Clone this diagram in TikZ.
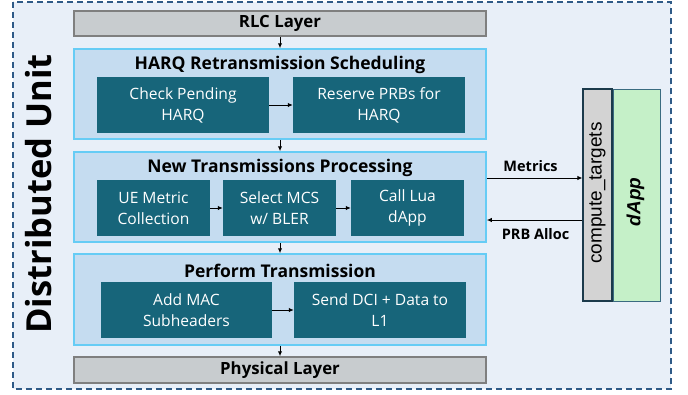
\documentclass[tikz,border=0pt]{standalone}
\usepackage{fontspec}
\setmainfont{Open Sans}
\newfontfamily\arialf{Liberation Sans}
\usetikzlibrary{arrows.meta,positioning}
\definecolor{outerfill}{HTML}{E8EFF8}
\definecolor{outerline}{HTML}{2E5A87}
\definecolor{layerfill}{HTML}{C8CCCF}
\definecolor{layerline}{HTML}{7F7F7F}
\definecolor{secfill}{HTML}{C5DCF0}
\definecolor{secline}{HTML}{66CCF5}
\definecolor{teal}{HTML}{17657A}
\definecolor{compfill}{HTML}{D3D3D3}
\definecolor{compline}{HTML}{1B3A4B}
\definecolor{dappfill}{HTML}{C5F0C8}
\definecolor{dappline}{HTML}{3A6B80}
\tikzset{
  layerbox/.style={draw=layerline, fill=layerfill, line width=1.5pt, inner sep=0pt, font=\fontsize{16.8}{20}\selectfont\bfseries},
  secbox/.style={draw=secline, fill=secfill, line width=1.5pt, inner sep=0pt},
  sectitle/.style={font=\fontsize{17.5}{20}\selectfont\bfseries, inner sep=0pt},
  stepbox/.style={fill=teal, text=white, inner sep=0pt, align=center, font=\fontsize{15.6}{21}\selectfont},
  arr/.style={-{Latex[length=5pt,width=4.5pt]}, line width=1pt},
  lbl/.style={font=\fontsize{14.5}{16}\selectfont\bfseries, inner sep=0pt}
}
\begin{document}
\begin{tikzpicture}[x=1pt,y=-1pt]
\useasboundingbox (0,0) rectangle (688,394);
% outer
\draw[outerline, fill=outerfill, line width=1.5pt, dash pattern=on 6pt off 4pt] (13,2) rectangle (671,389);
\node[rotate=90, font=\fontsize{34.5}{38}\selectfont\bfseries, inner sep=0pt] (du) at (39,194) {Distributed Unit};
% layers
\node[layerbox, minimum width=412pt, minimum height=25pt] (rlc) at (280,23.5) {RLC Layer};
\node[layerbox, minimum width=412pt, minimum height=26pt] (phy) at (280,370) {Physical Layer};
% sections
\node[secbox, minimum width=412pt, minimum height=90pt] (harq) at (280,94) {};
\node[sectitle] (harqt) at (280,65) {HARQ Retransmission Scheduling};
\node[stepbox, minimum width=172pt, minimum height=56pt] (chk) at (183,105) {Check Pending\\HARQ};
\node[stepbox, minimum width=172pt, minimum height=56pt] (res) at (379,105) {Reserve PRBs for\\HARQ};

\node[secbox, minimum width=412pt, minimum height=90pt] (newt) at (280,197) {};
\node[sectitle] (newtt) at (280,168) {New Transmissions Processing};
\node[stepbox, minimum width=113pt, minimum height=56pt] (ue) at (153.5,208) {UE Metric\\Collection};
\node[stepbox, minimum width=113pt, minimum height=56pt] (mcs) at (279.5,208) {Select MCS\\w/ BLER};
\node[stepbox, minimum width=113pt, minimum height=56pt] (lua) at (407.5,208) {Call Lua\\dApp};

\node[secbox, minimum width=412pt, minimum height=91pt] (perf) at (280,299.5) {};
\node[sectitle] (perft) at (280,271) {Perform Transmission};
\node[stepbox, minimum width=171pt, minimum height=56pt] (mac) at (186.5,310) {Add MAC\\Subheaders};
\node[stepbox, minimum width=172pt, minimum height=56pt] (dci) at (380,310) {Send DCI + Data to\\L1};

% dApp
\node[draw=compline, fill=compfill, line width=1.2pt, minimum width=29pt, minimum height=212pt, inner sep=0pt] (comp) at (597.5,195) {};
\node[rotate=90, font=\arialf\fontsize{19}{22}\selectfont, inner sep=0pt] (compt) at (597.5,193) {compute\_targets};
\node[draw=dappline, fill=dappfill, line width=1pt, minimum width=47pt, minimum height=212pt, inner sep=0pt, anchor=west] (dapp) at (comp.east) {};
\node[rotate=90, font=\arialf\fontsize{19}{22}\selectfont\bfseries\itshape, inner sep=0pt] (dappt) at (635.5,202) {dApp};
\draw[compline, line width=1.2pt] (comp.north west) rectangle (comp.south east);

% arrows
\draw[arr] (rlc.south) -- (harq.north);
\draw[arr] (harq.south) -- (newt.north);
\draw[arr] (newt.south) -- (perf.north);
\draw[arr] (perf.south) -- (phy.north);
\draw[arr] (chk.east) -- (res.west);
\draw[arr] (ue.east) -- (mcs.west);
\draw[arr] (mcs.east) -- (lua.west);
\draw[arr] (mac.east) -- (dci.west);
\coordinate (m1) at (newt.east |- 0,178);
\coordinate (m2) at (comp.west |- 0,178);
\coordinate (p1) at (comp.west |- 0,220);
\coordinate (p2) at (newt.east |- 0,220);
\draw[arr] (m1) -- node[lbl, above=6pt, xshift=-4pt] (ml) {Metrics} (m2);
\draw[arr] (p1) -- node[lbl, below=8pt, xshift=1pt] (pl) {PRB Alloc} (p2);
\end{tikzpicture}
\end{document}
